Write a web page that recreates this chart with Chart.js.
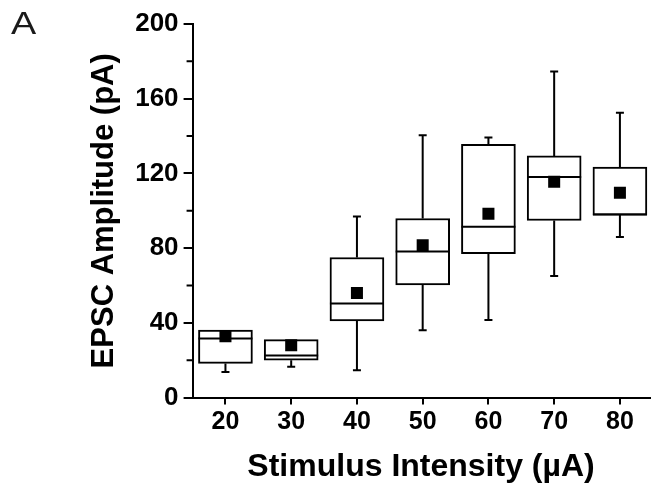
<!DOCTYPE html>
<html>
<head>
<meta charset="utf-8">
<script src="https://cdn.jsdelivr.net/npm/chart.js@4"></script>
<style>
html,body{margin:0;padding:0;background:#fff;}
#wrap{width:658px;height:489px;position:relative;}
</style>
</head>
<body>
<div id="wrap"><canvas id="c" width="658" height="489"></canvas></div>
<script>
// Data
const intensities = [20, 30, 40, 50, 60, 70, 80];
const whiskerLow  = [13.7, 16.5, 14.7, 36.0, 41.5, 65.1, 86.0];
const q1          = [18.3, 20.0, 41.1, 60.3, 77.1, 94.8, 97.7];
const medians     = [31.7, 22.5, 50.4, 78.2, 91.5, 118.1, 98.0];
const q3          = [36.2, 31.0, 75.0, 95.9, 135.6, 129.4, 123.4];
const whiskerHigh = [36.2, 31.0, 97.0, 140.4, 139.2, 174.6, 152.5];
const means       = [32.8, 28.0, 56.0, 81.5, 98.4, 115.6, 109.7];
const yTicks = [0, 40, 80, 120, 160, 200];
const yMinorTicks = [20, 60, 100, 140, 180];
const panelLabel = 'A';
const xTitle = 'Stimulus Intensity (\u00B5A)';
const yTitle = 'EPSC Amplitude (pA)';

const FONT = "'Liberation Sans', Arial, sans-serif";

const boxPlugin = {
  id: 'boxExtras',
  afterDatasetDraw(chart, args) {
    if (args.index !== 0) return;
    const ctx = chart.ctx, xs = chart.scales.x, ys = chart.scales.y;
    ctx.save();
    ctx.strokeStyle = '#000';
    ctx.lineWidth = 2;
    const half = 27, cap = 4;
    intensities.forEach((v, i) => {
      const x = xs.getPixelForValue(v);
      const yl = ys.getPixelForValue(whiskerLow[i]);
      const yh = ys.getPixelForValue(whiskerHigh[i]);
      const y1 = ys.getPixelForValue(q1[i]);
      const y3 = ys.getPixelForValue(q3[i]);
      const ym = ys.getPixelForValue(medians[i]);
      ctx.beginPath();
      if (whiskerLow[i] < q1[i]) {
        ctx.moveTo(x, y1); ctx.lineTo(x, yl);
        ctx.moveTo(x - cap, yl); ctx.lineTo(x + cap, yl);
      }
      if (whiskerHigh[i] > q3[i]) {
        ctx.moveTo(x, y3); ctx.lineTo(x, yh);
        ctx.moveTo(x - cap, yh); ctx.lineTo(x + cap, yh);
      }
      ctx.moveTo(x - half, ym); ctx.lineTo(x + half, ym);
      ctx.stroke();
    });
    ctx.restore();
  },
  afterDraw(chart) {
    const ctx = chart.ctx, ys = chart.scales.y;
    ctx.save();
    ctx.strokeStyle = '#000';
    ctx.lineWidth = 2;
    const left = chart.chartArea.left;
    ctx.beginPath();
    yMinorTicks.forEach(v => {
      const y = ys.getPixelForValue(v);
      ctx.moveTo(left - 6, y); ctx.lineTo(left, y);
    });
    ctx.stroke();
    ctx.fillStyle = '#1a1a1a';
    ctx.font = "normal 31px " + FONT;
    ctx.textBaseline = 'alphabetic';
    ctx.textAlign = 'left';
    ctx.translate(11, 34);
    ctx.scale(1.22, 1);
    ctx.fillText(panelLabel, 0, 0);
    ctx.restore();
  }
};

new Chart(document.getElementById('c'), {
  type: 'bar',
  data: {
    datasets: [
      {
        type: 'bar',
        order: 2,
        data: intensities.map((x, i) => ({ x: x, y: [q1[i], q3[i]] })),
        backgroundColor: '#fff',
        borderColor: '#000',
        borderWidth: 2,
        borderSkipped: false,
        barThickness: 54
      },
      {
        type: 'scatter',
        order: 1,
        data: intensities.map((x, i) => ({ x: x, y: means[i] })),
        pointStyle: 'rect',
        pointRadius: 8.5,
        pointBorderWidth: 0,
        pointBackgroundColor: '#000',
        backgroundColor: '#000',
        borderColor: '#000'
      }
    ]
  },
  options: {
    responsive: false,
    animation: false,
    events: [],
    layout: { padding: { left: 75, top: 24, right: 0, bottom: 3 } },
    plugins: { legend: { display: false }, tooltip: { enabled: false } },
    scales: {
      x: {
        type: 'linear',
        offset: false,
        min: 15, max: 84.5,
        afterBuildTicks: (s) => { s.ticks = intensities.map(v => ({ value: v })); },
        border: { display: true, color: '#000', width: 2 },
        grid: { display: true, offset: false, drawOnChartArea: false, drawTicks: true, tickLength: 7, color: '#000', lineWidth: 2 },
        ticks: { color: '#000', font: { family: FONT, size: 25, weight: 'bold' }, padding: 3, maxRotation: 0, autoSkip: false },
        title: { display: true, text: xTitle, color: '#000', font: { family: FONT, size: 32, weight: 'bold' }, padding: { top: 7, bottom: 0 } }
      },
      y: {
        type: 'linear',
        min: 0, max: 200,
        afterBuildTicks: (s) => { s.ticks = yTicks.map(v => ({ value: v })); },
        border: { display: true, color: '#000', width: 2 },
        grid: { display: true, drawOnChartArea: false, drawTicks: true, tickLength: 9, color: '#000', lineWidth: 2 },
        ticks: { color: '#000', font: { family: FONT, size: 26, weight: 'bold' }, padding: 5 },
        title: { display: true, text: yTitle, color: '#000', font: { family: FONT, size: 31, weight: 'bold' }, padding: { top: 11, bottom: 7 } }
      }
    }
  },
  plugins: [boxPlugin]
});
</script>
</body>
</html>
